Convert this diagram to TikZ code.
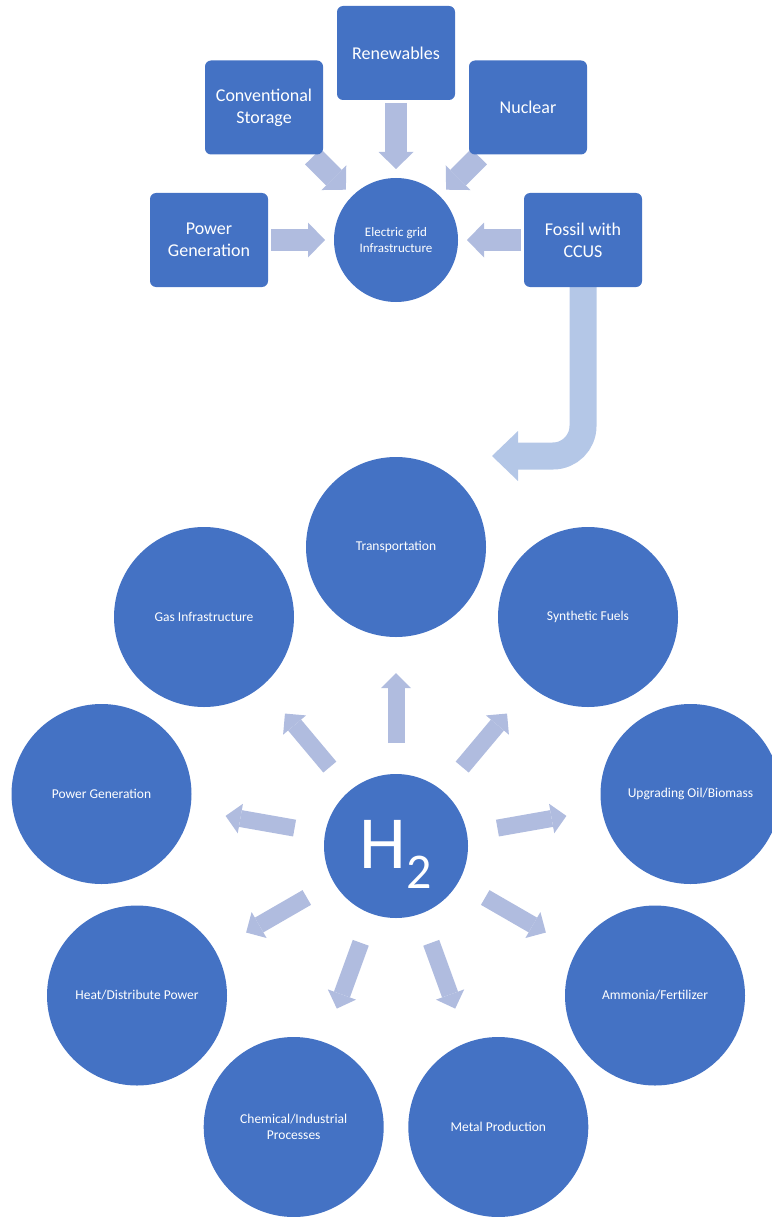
\documentclass[tikz,border=0pt]{standalone}
\usepackage{fontspec}
\setmainfont{Carlito}
\usetikzlibrary{arrows.meta,backgrounds}

\definecolor{boxblue}{HTML}{4472C4}
\definecolor{arrowgrey}{HTML}{B0BCDF}
\definecolor{arrowlight}{HTML}{B4C7E7}

\tikzset{
	srcbox/.style={fill=boxblue, rounded corners=6pt, minimum width=118pt, minimum height=94pt, inner sep=2pt, outer sep=0pt, text=white, align=center, font=\fontsize{18}{22}\selectfont},
	hub/.style={circle, fill=boxblue, minimum size=124pt, inner sep=0pt, outer sep=0pt, text=white, align=center, font=\fontsize{13}{15.5}\selectfont},
	core/.style={circle, fill=boxblue, minimum size=144pt, inner sep=0pt, outer sep=0pt, text=white, font=\fontsize{75}{75}\selectfont, text height=50pt, text depth=6pt},
	usecirc/.style={circle, fill=boxblue, minimum size=180pt, inner sep=0pt, outer sep=0pt, text=white, align=center, font=\fontsize{13.5}{16}\selectfont},
	feedarrow/.style={draw=arrowgrey, line width=22pt, -{Triangle[width=35pt,length=17pt,line width=0pt]}, shorten <=3pt, shorten >=9pt},
	outarrow/.style={draw=arrowgrey, line width=17pt, -{Triangle[width=30pt,length=15pt,line width=0pt]}, shorten <=31pt, shorten >=36pt}
}

\begin{document}
\begin{tikzpicture}[x=1pt, y=-1pt]
		\useasboundingbox (0,0) rectangle (771,1217);

		% electricity side
		\draw (396,240) node[hub] (grid) {Electric grid\\Infrastructure};
		\draw (396,53) node[srcbox] (renew) {Renewables};
		\draw (264,107.5) node[srcbox] (conv) {Conventional\\Storage};
		\draw (528,107.5) node[srcbox] (nuclear) {Nuclear};
		\draw (209,240) node[srcbox] (pgen) {Power\\Generation};
		\draw (583,240) node[srcbox] (fossil) {Fossil with\\CCUS};
		\coordinate (jend) at (492,456);

		% hydrogen side
		\draw (396,846) node[core] (h2) {H\raisebox{-20pt}{\fontsize{50}{50}\selectfont 2}};
		\draw (396,547) node[usecirc] (trans) {Transportation};
		\draw (588,617) node[usecirc] (synfuel) {Synthetic Fuels};
		\draw (204,617) node[usecirc] (gasinf) {Gas Infrastructure};
		\draw (690.5,794) node[usecirc] (upgrade) {Upgrading Oil/Biomass};
		\draw (101.5,794) node[usecirc] (power) {Power Generation};
		\draw (655,995.5) node[usecirc] (ammonia) {Ammonia/Fertilizer};
		\draw (137,995.5) node[usecirc] (heat) {Heat/Distribute Power};
		\draw (498.3,1127) node[usecirc] (metal) {Metal Production};
		\draw (293.7,1127) node[usecirc] (chem) {Chemical/Industrial\\Processes};

		\begin{scope}[on background layer]
			\draw [feedarrow] (renew) -- (grid);
			\draw [feedarrow] (conv) -- (grid);
			\draw [feedarrow] (nuclear) -- (grid);
			\draw [feedarrow] (pgen) -- (grid);
			\draw [feedarrow] (fossil) -- (grid);
			\draw [draw=arrowlight, line width=27pt, rounded corners=30pt, -{Triangle[width=50pt,length=26pt,line width=0pt]}] (fossil.south) |- (jend);

			\draw [outarrow] (h2) -- (trans);
			\draw [outarrow] (h2) -- (synfuel);
			\draw [outarrow] (h2) -- (gasinf);
			\draw [outarrow] (h2) -- (upgrade);
			\draw [outarrow] (h2) -- (power);
			\draw [outarrow] (h2) -- (ammonia);
			\draw [outarrow] (h2) -- (heat);
			\draw [outarrow] (h2) -- (metal);
			\draw [outarrow] (h2) -- (chem);
		\end{scope}
	\end{tikzpicture}
\end{document}
